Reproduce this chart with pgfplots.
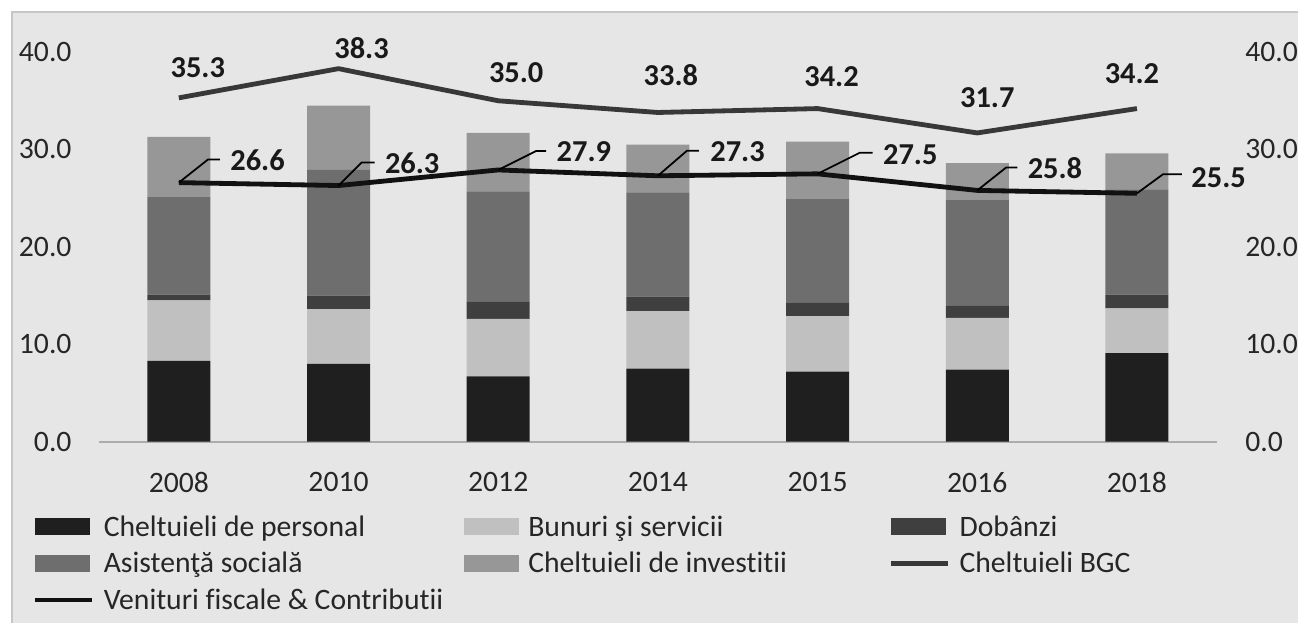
\documentclass[border=0pt]{standalone}
\usepackage{fontspec}
\setmainfont{Carlito}[Ligatures=NoCommon]
\usepackage{pgfplots}
\usepackage{pgfplotstable}
\pgfplotsset{compat=1.18}

\definecolor{chartbg}{HTML}{E6E6E6}
\definecolor{cPers}{HTML}{1F1F1F}
\definecolor{cBun}{HTML}{C0C0C0}
\definecolor{cDob}{HTML}{3F3F3F}
\definecolor{cAsist}{HTML}{6E6E6E}
\definecolor{cInv}{HTML}{979797}
\definecolor{cBGC}{HTML}{383838}
\definecolor{cVen}{HTML}{111111}

% one pixel of the reference picture
\newlength\px
\setlength\px{0.013868cm}

% years at 0..6
\pgfplotstableread{
x pers bun dob asist inv bgc ven
0 8.3 6.2 0.6 10.0 6.2 35.3 26.6
1 8.0 5.6 1.4 12.9 6.6 38.3 26.3
2 6.7 5.9 1.8 11.3 6.0 35.0 27.9
3 7.5 5.9 1.5 10.7 4.9 33.8 27.3
4 7.2 5.7 1.4 10.6 5.9 34.2 27.5
5 7.4 5.3 1.3 10.8 3.8 31.7 25.8
6 9.1 4.6 1.4 10.8 3.7 34.2 25.5
}\data

\pgfplotsset{
  common/.style={
    scale only axis, width=15.504cm, height=5.404cm,
    xmin=-0.5, xmax=6.5, ymin=0, ymax=40,
    ytick={0,10,...,40},
    tick style={draw=none}, major tick length=0pt,
    tick label style={font=\fontsize{11.7}{14}\selectfont, text=black!85},
    /pgf/number format/fixed, /pgf/number format/fixed zerofill,
    /pgf/number format/precision=1, /pgf/number format/assume math mode=true,
  },
  barleg/.style={legend image code/.code={\fill[##1, draw=none] (0cm,-0.118cm) rectangle (0.763cm,0.118cm);}},
  lineleg/.style={legend image code/.code={\draw[##1] (0cm,0cm) -- (0.79cm,0cm);}},
}
\tikzset{
  lbl/.style={font=\fontsize{12}{14}\selectfont\bfseries, text=black!90, inner sep=0pt},
  leader/.style={draw=black, line width=0.7pt},
}

\begin{document}
\begin{tikzpicture}
\useasboundingbox (-99*\px,-181.3*\px) rectangle (1199*\px,441.7*\px);
\fill[white] (-99*\px,-181.3*\px) rectangle (1199*\px,441.7*\px);
\fill[chartbg] (-87*\px,-181.3*\px) rectangle (1199*\px,429.7*\px);
\draw[gray!45, line width=0.5pt] (-87*\px,-181.3*\px) -- (-87*\px,429.7*\px) -- (1199*\px,429.7*\px);

% stacked bars, left scale
\begin{axis}[common,
  ybar stacked, bar width=0.874cm,
  axis x line*=bottom, axis y line*=left,
  x axis line style={draw=gray!65, line width=0.8pt, -},
  y axis line style={draw=none},
  xtick={0,...,6},
  xticklabels={2008,2010,2012,2014,2015,2016,2018},
  xticklabel style={inner sep=0pt, yshift=-0.42cm},
  yticklabel style={inner sep=0pt, xshift=-0.374cm},
]
\addplot[fill=cPers, draw=none] table[x=x,y=pers]{\data};
\addplot[fill=cBun, draw=none] table[x=x,y=bun]{\data};
\addplot[fill=cDob, draw=none] table[x=x,y=dob]{\data};
\addplot[fill=cAsist, draw=none] table[x=x,y=asist]{\data};
\addplot[fill=cInv, draw=none] table[x=x,y=inv]{\data};
\end{axis}

% lines, right scale, legend
\begin{axis}[common, clip=false,
  axis x line=none, axis y line*=right,
  y axis line style={draw=none},
  yticklabel style={inner sep=0pt, xshift=0.388cm},
  legend columns=3,
  legend cell align=left,
  legend style={at={(-0.0590,-0.1856)}, anchor=north west,
    draw=none, fill=none, inner sep=0pt, outer sep=0pt,
    row sep=0.146cm,
    font=\fontsize{11.7}{14}\selectfont,
    nodes={inner sep=0pt, text height=0.31cm, text depth=0.05cm, text=black!85},
    /tikz/every odd column/.append style={column sep=0.125cm}},
]
\addlegendimage{barleg, fill=cPers}
\addlegendentry{\makebox[5.0cm][l]{Cheltuieli de personal}}
\addlegendimage{barleg, fill=cBun}
\addlegendentry{\makebox[5.0cm][l]{Bunuri şi servicii}}
\addlegendimage{barleg, fill=cDob}
\addlegendentry{\makebox[5.0cm][l]{Dobânzi}}
\addlegendimage{barleg, fill=cAsist}
\addlegendentry{\makebox[5.0cm][l]{Asistenţă socială}}
\addlegendimage{barleg, fill=cInv}
\addlegendentry{\makebox[5.0cm][l]{Cheltuieli de investitii}}

\addplot[lineleg, draw=cBGC, line width=1.9pt, line join=round] table[x=x,y=bgc]{\data};
\addlegendentry{\makebox[5.0cm][l]{Cheltuieli BGC}}
\addplot[lineleg, draw=cVen, line width=1.9pt, line join=round] table[x=x,y=ven]{\data};
\addlegendentry{\makebox[5.0cm][l]{Venituri fiscale \& Contributii}}

% labels of Cheltuieli BGC
\node[lbl, xshift=19*\px, yshift=30*\px] at (axis cs:0,35.3) {35.3};
\node[lbl, xshift=23*\px, yshift=21*\px] at (axis cs:1,38.3) {38.3};
\node[lbl, xshift=18*\px, yshift=28*\px] at (axis cs:2,35.0) {35.0};
\node[lbl, xshift=13*\px, yshift=37*\px] at (axis cs:3,33.8) {33.8};
\node[lbl, xshift=14*\px, yshift=32*\px] at (axis cs:4,34.2) {34.2};
\node[lbl, xshift=10*\px, yshift=35*\px] at (axis cs:5,31.7) {31.7};
\node[lbl, xshift=-5*\px, yshift=35*\px] at (axis cs:6,34.2) {34.2};

% labels of Venituri, with leader lines
\draw[leader] (axis cs:0,26.6) -- ++(29*\px,23*\px) -- ++(12*\px,0pt);
\node[lbl, anchor=west, xshift=51*\px, yshift=22*\px] at (axis cs:0,26.6) {26.6};
\draw[leader] (axis cs:1,26.3) -- ++(23*\px,23*\px) -- ++(13*\px,0pt);
\node[lbl, anchor=west, xshift=46*\px, yshift=22*\px] at (axis cs:1,26.3) {26.3};
\draw[leader] (axis cs:2,27.9) -- ++(38*\px,19*\px) -- ++(10*\px,0pt);
\node[lbl, anchor=west, xshift=58*\px, yshift=18*\px] at (axis cs:2,27.9) {27.9};
\draw[leader] (axis cs:3,27.3) -- ++(29*\px,25*\px) -- ++(12*\px,0pt);
\node[lbl, anchor=west, xshift=52*\px, yshift=24*\px] at (axis cs:3,27.3) {27.3};
\draw[leader] (axis cs:4,27.5) -- ++(42*\px,21*\px) -- ++(13*\px,0pt);
\node[lbl, anchor=west, xshift=65*\px, yshift=19*\px] at (axis cs:4,27.5) {27.5};
\draw[leader] (axis cs:5,25.8) -- ++(29*\px,23*\px) -- ++(11*\px,0pt);
\node[lbl, anchor=west, xshift=50*\px, yshift=22*\px] at (axis cs:5,25.8) {25.8};
\draw[leader] (axis cs:6,25.5) -- ++(26*\px,19*\px) -- ++(19*\px,0pt);
\node[lbl, anchor=west, xshift=54*\px, yshift=16*\px] at (axis cs:6,25.5) {25.5};
\end{axis}
\end{tikzpicture}
\end{document}
